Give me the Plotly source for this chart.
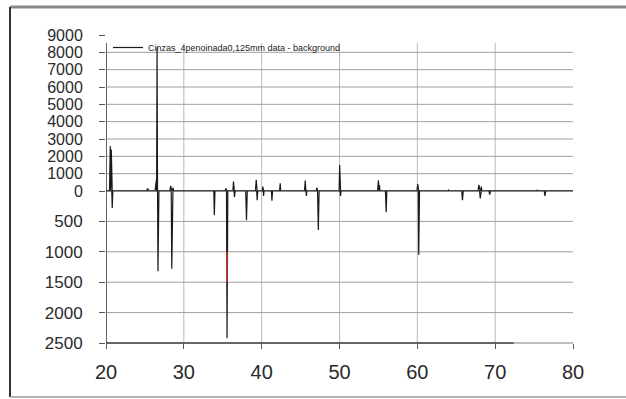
import plotly.graph_objects as go

# ---- data ----
two_theta = [20.0, 20.45, 20.55, 20.62, 20.68, 20.74, 20.8, 20.88,
             25.2, 25.35, 25.5,
             26.3, 26.45, 26.5, 26.56, 26.62, 26.68, 26.8,
             28.2, 28.3, 28.38, 28.45, 28.55, 28.6, 28.7,
             33.85, 33.92, 34.0,
             35.3, 35.4, 35.48, 35.55, 35.65,
             36.3, 36.38, 36.45, 36.5, 36.6,
             37.95, 38.05, 38.15,
             39.2, 39.3, 39.36, 39.42, 39.5,
             40.1, 40.15, 40.2, 40.25, 40.3,
             41.25, 41.32, 41.4,
             42.3, 42.38, 42.45,
             45.5, 45.6, 45.68, 45.75, 45.8,
             47.0, 47.1, 47.18, 47.28, 47.38,
             49.95, 50.02, 50.08, 50.14, 50.2,
             54.9, 55.0, 55.08, 55.14, 55.2,
             55.9, 56.0, 56.08,
             59.95, 60.05, 60.12, 60.18, 60.28,
             63.9, 64.0, 64.1,
             65.7, 65.8, 65.9,
             67.8, 67.9, 68.0, 68.08, 68.16, 68.22, 68.3,
             69.2, 69.3, 69.4,
             73.1, 73.2, 73.3,
             75.3, 75.4, 75.5,
             76.3, 76.4, 76.5,
             80.0]
intensity = [0, 0, 2600, 0, 2400, 0, -280, 0,
             0, 150, 0,
             0, 600, 0, 8300, 0, -1320, 0,
             0, 300, 0, -1280, 0, 200, 0,
             0, -400, 0,
             0, 150, 0, -2420, 0,
             0, 550, 0, -100, 0,
             0, -480, 0,
             0, 650, 0, -150, 0,
             0, 250, 0, -80, 0,
             0, -160, 0,
             0, 450, 0,
             0, 600, 0, -80, 0,
             0, 200, 0, -640, 0,
             0, 1500, 0, -80, 0,
             0, 620, 0, 350, 0,
             0, -350, 0,
             0, 400, 0, -1050, 0,
             0, 60, 0,
             0, -150, 0,
             0, 350, 0, -120, 0, 250, 0,
             0, -60, 0,
             0, 40, 0,
             0, 50, 0,
             0, -80, 0,
             0]
red_theta = [35.55, 35.55]
red_depth = [1000, 1500]

x_ticks = [20, 30, 40, 50, 60, 70, 80]
up_ticks = [0, 1000, 2000, 3000, 4000, 5000, 6000, 7000, 8000, 9000]
down_ticks = [500, 1000, 1500, 2000, 2500]
series_name = "Cinzas_4penoinada0,125mm data - background"

up_vals = [v if v > 0 else 0 for v in intensity]
down_vals = [-v if v < 0 else 0 for v in intensity]

split = (343 - 191) / 308.0

fig = go.Figure()
fig.add_trace(go.Scatter(x=two_theta, y=up_vals, mode="lines", name=series_name,
                         line=dict(color="#1a1a1a", width=1.2), xaxis="x", yaxis="y"))
fig.add_trace(go.Scatter(x=two_theta, y=down_vals, mode="lines", showlegend=False,
                         line=dict(color="#1a1a1a", width=1.2), xaxis="x", yaxis="y2"))
fig.add_trace(go.Scatter(x=red_theta, y=red_depth, mode="lines", showlegend=False,
                         line=dict(color="#e03a2a", width=1.4), xaxis="x", yaxis="y2"))

shapes = []
grid_col = "#a0a0a0"
for v in up_ticks[1:-1]:
    shapes.append(dict(type="line", xref="x", yref="y", x0=20, x1=80, y0=v, y1=v,
                       line=dict(color=grid_col, width=1), layer="below"))
for v in down_ticks[:-1]:
    shapes.append(dict(type="line", xref="x", yref="y2", x0=20, x1=80, y0=v, y1=v,
                       line=dict(color=grid_col, width=1), layer="below"))
for v in x_ticks[1:-1]:
    shapes.append(dict(type="line", xref="x", yref="paper", x0=v, x1=v, y0=0, y1=(343 - 43) / 308.0,
                       line=dict(color="#b8b8b8", width=1), layer="below"))
# axis lines
shapes.append(dict(type="line", xref="x", yref="paper", x0=20, x1=20, y0=0, y1=(343 - 43) / 308.0,
                   line=dict(color="#333333", width=1.5)))
shapes.append(dict(type="line", xref="x", yref="y", x0=20, x1=80, y0=0, y1=0,
                   line=dict(color="#333333", width=1.5)))
shapes.append(dict(type="line", xref="x", yref="paper", x0=20, x1=72.4, y0=0, y1=0,
                   line=dict(color="#333333", width=1.5)))
shapes.append(dict(type="line", xref="x", yref="paper", x0=72.4, x1=80, y0=0, y1=0,
                   line=dict(color="#aaaaaa", width=1.5)))
# outer frame
fx0 = (10 - 106) / 467.0
fy_top = (343 - 7) / 308.0
fy_bot = (343 - 397) / 308.0
shapes.append(dict(type="line", xref="paper", yref="paper", x0=fx0, x1=1.2, y0=fy_top, y1=fy_top,
                   line=dict(color="#8a8a8a", width=3)))
shapes.append(dict(type="line", xref="paper", yref="paper", x0=fx0, x1=fx0, y0=fy_top, y1=fy_bot,
                   line=dict(color="#333333", width=2)))
shapes.append(dict(type="line", xref="paper", yref="paper", x0=fx0, x1=1.2, y0=fy_bot, y1=fy_bot,
                   line=dict(color="#9a9a9a", width=1.5)))

font_family = "Liberation Sans, Arial, sans-serif"
fig.update_layout(
    width=626, height=399,
    margin=dict(l=106, r=53, t=35, b=56),
    paper_bgcolor="white", plot_bgcolor="rgba(0,0,0,0)",
    font=dict(family=font_family, color="#2a2a2a"),
    shapes=shapes,
    showlegend=True,
    legend=dict(x=(108 - 106) / 467.0, y=(343 - 33) / 308.0, xanchor="left", yanchor="top",
                bgcolor="rgba(0,0,0,0)", font=dict(size=9, color="#222222"),
                itemwidth=30, tracegroupgap=0),
    xaxis=dict(range=[20, 80], tickvals=x_ticks, showgrid=False, zeroline=False,
               showline=False, ticks="outside", ticklen=5, tickcolor="#555555",
               tickfont=dict(size=20, color="#2a2a2a"), anchor="y2", ticklabelstandoff=6),
    yaxis=dict(domain=[split, 1], range=[0, 9000], tickvals=up_ticks, showgrid=False,
               zeroline=False, showline=False, ticks="outside", ticklen=6, tickcolor="#555555",
               tickfont=dict(size=16, color="#2a2a2a"), ticklabelstandoff=13),
    yaxis2=dict(domain=[0, split], range=[2500, 0], tickvals=down_ticks, showgrid=False,
                zeroline=False, showline=False, ticks="outside", ticklen=6, tickcolor="#555555",
                tickfont=dict(size=17, color="#2a2a2a"), ticklabelstandoff=13),
)

fig.write_html("out.html", config={"displayModeBar": False},
               post_script="document.body.style.margin='0';document.body.style.padding='0';")
